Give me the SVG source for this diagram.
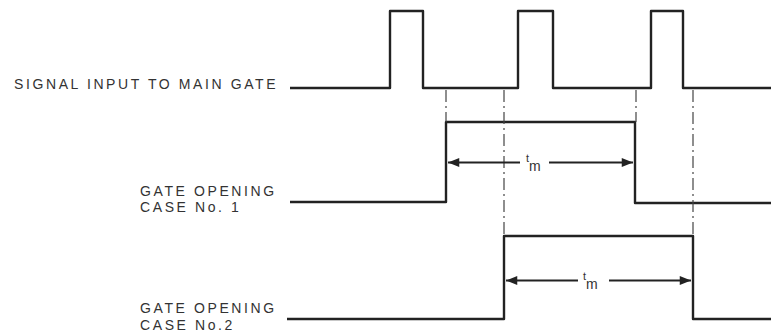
<svg xmlns="http://www.w3.org/2000/svg" width="771" height="336" viewBox="0 0 771 336">
<defs>
<style>
.lbl{font-family:"Liberation Sans",Arial,sans-serif;font-size:14px;letter-spacing:2.6px;fill:#333}
.wave{fill:none;stroke:#222;stroke-width:2.4;stroke-linejoin:round}
.dash{fill:none;stroke:#444;stroke-width:1.2;stroke-dasharray:12 4 2 4}
.arr{fill:none;stroke:#222;stroke-width:2}
.t{font-family:"Liberation Sans",Arial,sans-serif;fill:#333}
</style>
<marker id="ah" viewBox="0 0 10 8" refX="10" refY="4" markerWidth="7.5" markerHeight="4.5" orient="auto-start-reverse" markerUnits="strokeWidth">
<path d="M0,0 L10,4 L0,8 z" fill="#222"/>
</marker>
</defs>
<rect width="771" height="336" fill="#fff"/>
<g id="signal">
<text class="lbl" x="14" y="89">SIGNAL INPUT TO MAIN GATE</text>
<path class="wave" d="M290,88 H390 V11 H423 V88 H518 V11 H553 V88 H651 V11 H683 V88 H771"/>
</g>
<g id="case1">
<text class="lbl" x="140" y="196">GATE OPENING</text>
<text class="lbl" x="140" y="212">CASE No. 1</text>
<path class="wave" d="M290,202 H446 V122 H635 V203 H771"/>
</g>
<g id="case2">
<text class="lbl" x="140" y="313">GATE OPENING</text>
<text class="lbl" x="140" y="330">CASE No.2</text>
<path class="wave" d="M287,319 H504 V236 H693 V319 H771"/>
</g>
<g id="connectors">
<line class="dash" x1="446" y1="90" x2="446" y2="122"/>
<line class="dash" x1="504" y1="90" x2="504" y2="236"/>
<line class="dash" x1="636" y1="90" x2="636" y2="122"/>
<line class="dash" x1="693" y1="90" x2="693" y2="236"/>
<line class="arr" x1="520" y1="162.5" x2="448" y2="162.5" marker-end="url(#ah)"/>
<line class="arr" x1="549" y1="162.5" x2="633" y2="162.5" marker-end="url(#ah)"/>
<line class="arr" x1="578" y1="280.5" x2="506" y2="280.5" marker-end="url(#ah)"/>
<line class="arr" x1="609" y1="280.5" x2="691" y2="280.5" marker-end="url(#ah)"/>
</g>
<g id="tm1">
<text class="t" x="526" y="162" font-size="11">t</text>
<text class="t" x="529" y="171" font-size="14">m</text>
</g>
<g id="tm2">
<text class="t" x="583" y="280" font-size="11">t</text>
<text class="t" x="586" y="289" font-size="14">m</text>
</g>
</svg>
